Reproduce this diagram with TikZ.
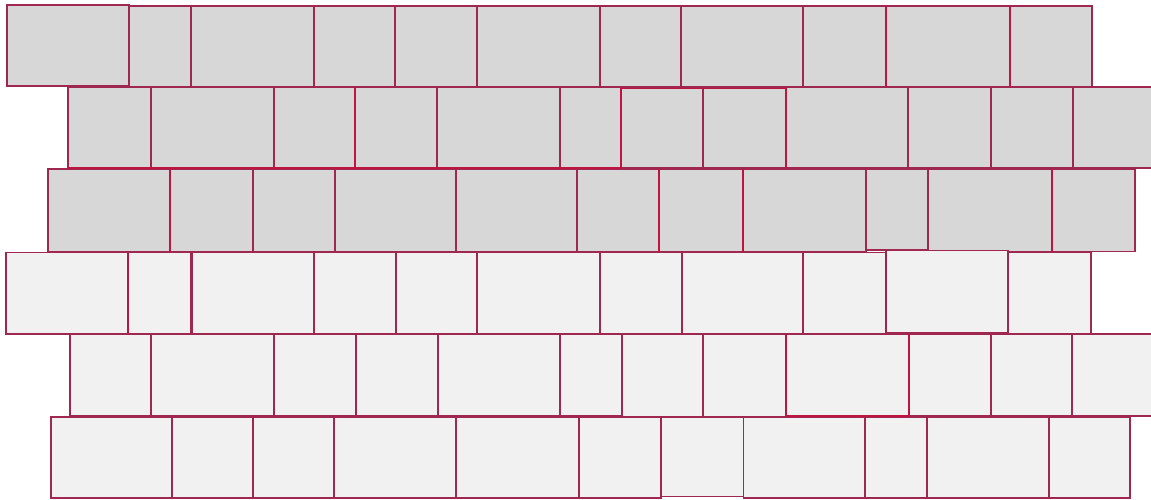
\documentclass[tikz,border=0pt]{standalone}
\definecolor{darkfill}{RGB}{215,215,215}
\definecolor{lightfill}{RGB}{241,241,242}
\definecolor{mortar}{RGB}{160,40,80}
\definecolor{mortarhot}{RGB}{190,20,65}
\tikzset{
  brick/.style={draw=mortar, line width=1.3pt},
  darkbrick/.style={brick, fill=darkfill},
  lightbrick/.style={brick, fill=lightfill},
  hot/.style={draw=mortarhot, line width=1.8pt}
}
\begin{document}
\begin{tikzpicture}[x=1pt,y=-1pt]
\useasboundingbox (0,0) rectangle (1151,499);
% row 1
\draw[darkbrick] (7,5) rectangle (129,86);
\foreach \a/\b in {129/191,191/314,314/395,395/477,477/600,600/681,886/1010,1010/1092}
  \draw[darkbrick] (\a,6) rectangle (\b,87);
\draw[darkbrick] (803,6) rectangle (886,88);
\draw[darkbrick] (681,6) rectangle (803,87);
% row 2
\foreach \a/\b in {68/151,151/274,274/355,355/437,437/560,560/621,786/908,908/991,991/1073,1073/1155}
  \draw[darkbrick] (\a,87) rectangle (\b,168);
\foreach \a/\b in {621/703,703/786}
  \draw[darkbrick] (\a,88.5) rectangle (\b,168);
% row 3
\foreach \a/\b in {48/170,170/253,253/335,335/456,456/577,577/659,659/743,743/866,928/1052,1052/1135}
  \draw[darkbrick] (\a,169) rectangle (\b,251.5);
\draw[darkbrick] (866,169) rectangle (928,250);
% row 4
\foreach \a/\b in {6/128,128/190.5,192/314,314/396,396/477,477/600,600/682,682/803,1008/1091}
  \draw[lightbrick] (\a,252.5) rectangle (\b,334);
\draw[lightbrick] (803,252.5) rectangle (885.5,334.5);
\draw[lightbrick] (886,250.7) rectangle (1008,333);
% row 5
\foreach \a/\b in {70/151,151/274,274/356,356/438,438/560,560/622,786/909,909/991,991/1072,1072/1155}
  \draw[lightbrick] (\a,334) rectangle (\b,416);
\foreach \a/\b in {622/703,703/786}
  \draw[lightbrick] (\a,334) rectangle (\b,416.7);
% row 6
\foreach \a/\b in {51/172,172/253,253/334,334/456,456/579,579/661,743.5/865,865/927,927/1049,1049/1130}
  \draw[lightbrick] (\a,417) rectangle (\b,498);
\draw[lightbrick] (661,417) rectangle (743.5,496.5);
% brighter, heavier joints
\draw[hot] (355,87) -- (355,168) -- (621,168) -- (621,88.5) -- (786,88.5) -- (786,168);
\draw[hot] (170,169) -- (170,251.5);
\draw[hot] (659,169) -- (659,251.5);
\draw[hot] (743,169) -- (743,251.5);
\draw[hot] (1052,169) -- (1052,251.5);
\draw[hot] (1010,6) -- (1010,87);
\draw[hot] (886,6) -- (886,87);
\draw[hot] (128,252.5) -- (128,334);
\draw[hot] (885.5,252.5) -- (885.5,334.5);
\draw[hot] (909,334) -- (909,416) -- (786,416) -- (786,334);
\draw[hot] (68,168) -- (355,168);
\end{tikzpicture}
\end{document}
